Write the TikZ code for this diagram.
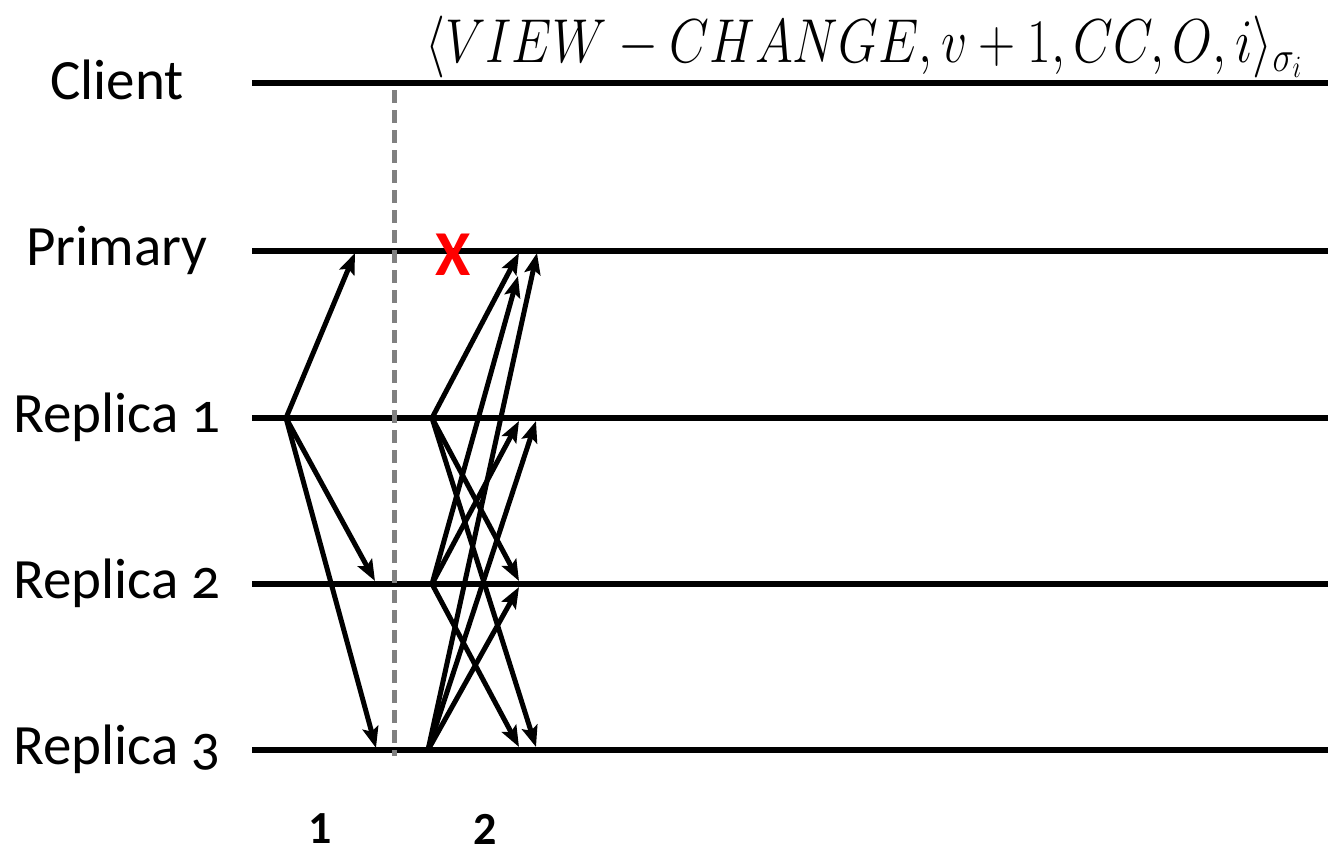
\RequirePackage{fix-cm}
\documentclass[tikz,border=0pt]{standalone}
\usepackage{fontspec}
\setmainfont{Carlito}
\newfontfamily\lanefont[Numbers=OldStyle]{Carlito}
\usepackage{amsmath}
\usetikzlibrary{arrows.meta, positioning}

\begin{document}
\begin{tikzpicture}[x=0.5pt, y=-0.5pt, >={Stealth[length=10.5pt, width=8pt, inset=2pt]},
    lane/.style={line width=3pt},
    msg/.style={->, line width=2.5pt},
    lanelabel/.style={font=\lanefont\fontsize{28.5}{30}\selectfont},
    phase/.style={inner sep=0pt, font=\bfseries\fontsize{23}{26}\selectfont}]
  \useasboundingbox (0,0) rectangle (1328,852);

  % process names
  \node[lanelabel] (client)  at (117,80)  {Client};
  \node[lanelabel] (primary) at (117,250) {Primary};
  \node[lanelabel] (rep1)    at (117,417) {Replica 1};
  \node[lanelabel] (rep2)    at (117,583) {Replica 2};
  \node[lanelabel] (rep3)    at (117,749) {Replica 3};

  % time lines
  \coordinate (clientL) at (252,83);  \coordinate (clientR) at (1328,83);
  \coordinate (primL)   at (252,251); \coordinate (primR)   at (1328,251);
  \coordinate (rep1L)   at (252,418); \coordinate (rep1R)   at (1328,418);
  \coordinate (rep2L)   at (252,584); \coordinate (rep2R)   at (1328,584);
  \coordinate (rep3L)   at (252,750); \coordinate (rep3R)   at (1328,750);
  \draw[lane] (clientL) -- (clientR);
  \draw[lane] (primL) -- (primR);
  \draw[lane] (rep1L) -- (rep1R);
  \draw[lane] (rep2L) -- (rep2R);
  \draw[lane] (rep3L) -- (rep3R);

  % timeout split
  \coordinate (splitT) at (394,90);
  \coordinate (splitB) at (394,756);
  \draw[gray, line width=2.5pt, dash pattern=on 6.5pt off 3.5pt] (splitT) -- (splitB);

  % phase 1
  \coordinate (a1) at (286,418);
  \coordinate (a1p) at (355,253);
  \coordinate (a1r2) at (375,581);
  \coordinate (a1r3) at (376,748);
  \draw[msg] (a1) -- (a1p);
  \draw[msg] (a1) -- (a1r2);
  \draw[msg] (a1) -- (a1r3);

  % phase 2
  \coordinate (b1) at (432,418);
  \coordinate (b2) at (432,584);
  \coordinate (b3) at (428,750);
  \coordinate (b1p)  at (519,253);
  \coordinate (b1r2) at (519,581);
  \coordinate (b1r3) at (536,747);
  \coordinate (b2p)  at (518,276);
  \coordinate (b2r1) at (519,421);
  \coordinate (b2r3) at (519,747);
  \coordinate (b3p)  at (537,253);
  \coordinate (b3r1) at (536,421);
  \coordinate (b3r2) at (519,587);
  \draw[msg] (b1) -- (b1p);
  \draw[msg] (b1) -- (b1r2);
  \draw[msg] (b1) -- (b1r3);
  \draw[msg] (b2) -- (b2p);
  \draw[msg] (b2) -- (b2r1);
  \draw[msg] (b2) -- (b2r3);
  \draw[msg] (b3) -- (b3p);
  \draw[msg] (b3) -- (b3r1);
  \draw[msg] (b3) -- (b3r2);

  % crashed primary
  \node[text=red, font=\bfseries\fontsize{32}{32}\selectfont] (crash) at (453,255) {X};

  % message format
  \node[anchor=base, font=\fontsize{31}{36}\selectfont] (vc) at (864,62)
    {\scalebox{0.83}[1]{$\langle VIEW - CHANGE, v+1, CC, O, i\rangle_{\sigma_i}$}};

  % phase numbers
  \node[phase] (ph1) at (320,829) {1};
  \node[phase] (ph2) at (485,829) {2};
\end{tikzpicture}
\end{document}
